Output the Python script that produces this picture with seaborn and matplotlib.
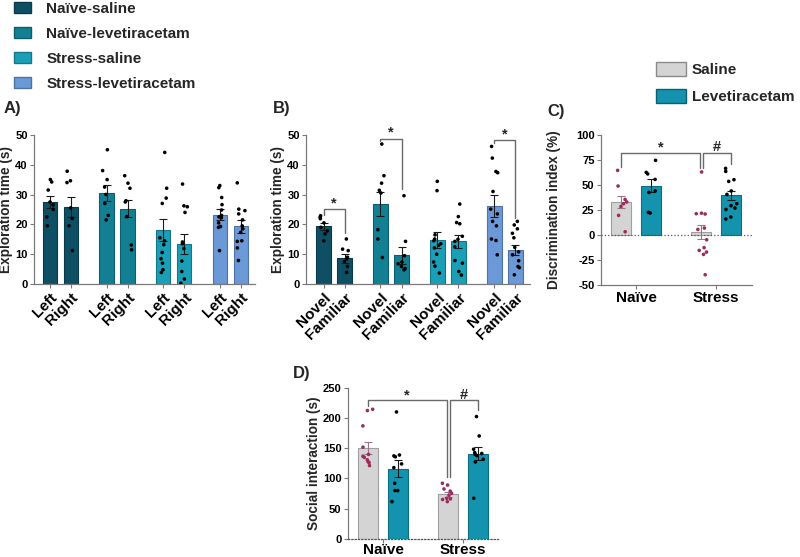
import numpy as np
import pandas as pd
import matplotlib.pyplot as plt
from matplotlib.colors import to_rgb
from matplotlib.patches import Patch
import seaborn as sns

sns.set_theme(style='ticks')
plt.rcParams['font.family'] = ['Liberation Sans', 'DejaVu Sans']
plt.rcParams['font.weight'] = 'bold'
plt.rcParams['axes.unicode_minus'] = False
np.random.seed(3)

# grupos / cores
grupos = ['Naïve-saline', 'Naïve-levetiracetam', 'Stress-saline', 'Stress-levetiracetam']
cores_grupos = ['#0e4f63', '#137f93', '#1a9fb6', '#6b98d6']
tratamentos = ['Saline', 'Levetiracetam']
cores_trat = ['#d4d4d4', '#1393ad']
condicoes = ['Naïve', 'Stress']
roxo = '#9c2c5c'

# A) tempo de exploracao - objetos iguais
a_ticks = ['Left', 'Right'] * 4
a_media = [27.5, 25.7, 30.5, 25.2, 18.1, 13.4, 23.3, 19.3]
a_sem = [2.0, 3.4, 2.6, 2.9, 3.8, 3.3, 1.9, 2.2]
a_pontos = [
    [35.0, 34.2, 31.5, 27.5, 26.5, 25.0, 22.5, 19.5],
    [37.8, 34.6, 34.0, 25.5, 22.0, 19.5, 11.2],
    [45.0, 38.0, 35.0, 32.5, 30.0, 27.0, 23.0, 21.5],
    [36.3, 33.8, 32.1, 27.9, 27.5, 22.6, 13.1, 11.5],
    [44.1, 32.1, 28.8, 27.0, 15.5, 14.5, 13.2, 10.6, 8.5, 7.0, 4.8, 3.9],
    [33.5, 26.2, 25.9, 24.0, 14.1, 13.5, 11.9, 7.7, 4.2, 1.7, 0.3],
    [33.0, 32.3, 29.0, 26.6, 24.8, 23.0, 22.5, 22.2, 20.5, 19.3, 19.0, 11.2],
    [33.9, 25.1, 24.6, 23.5, 21.5, 19.5, 18.5, 17.3, 14.5, 14.3, 12.1, 7.9],
]

# B) tempo de exploracao - novo vs familiar
b_ticks = ['Novel', 'Familiar'] * 4
b_media = [19.3, 8.7, 26.8, 9.6, 14.8, 14.3, 26.2, 11.4]
b_sem = [1.1, 1.5, 4.1, 2.8, 2.8, 2.2, 3.6, 1.8]
b_pontos = [
    [22.9, 22.4, 21.9, 20.5, 19.0, 17.8, 16.8, 14.5],
    [15.1, 11.7, 11.2, 9.0, 8.4, 7.5, 5.9, 3.9],
    [46.9, 36.3, 33.8, 31.4, 30.5, 18.2, 15.1, 8.9],
    [29.6, 14.3, 9.5, 7.4, 6.8, 5.9, 5.2, 4.8],
    [34.4, 31.3, 16.5, 15.1, 14.5, 13.5, 13.0, 12.1, 10.0, 7.4, 6.0, 3.7],
    [26.8, 22.6, 20.6, 20.2, 16.0, 15.0, 14.3, 12.5, 7.9, 7.0, 4.2, 3.0],
    [46.1, 42.2, 37.7, 37.3, 31.0, 25.1, 23.5, 21.0, 19.5, 15.1, 14.6, 9.8],
    [21.0, 19.8, 18.5, 17.0, 15.5, 12.3, 10.8, 9.8, 7.8, 5.9, 5.5, 3.1],
]
# (altura da barra, fundo perna esq, fundo perna dir) para cada par com *
b_sig = {0: (25.0, 23.0, 17.0), 1: (48.7, 47.8, 32.0), 3: (48.1, 47.2, 22.0)}

# C) indice de discriminacao
c_media = [33.0, 49.2, 3.0, 39.6]
c_sem = [6.2, 6.7, 7.3, 4.3]
c_pontos = [
    [64.5, 48.9, 35.5, 33.0, 31.3, 28.5, 19.6, 3.3],
    [74.5, 62.5, 61.0, 55.5, 44.0, 42.5, 22.6, 22.0],
    [62.9, 21.3, 21.0, 21.8, 7.0, 5.6, -4.7, -12.6, -15.3, -17.0, -19.3, -39.6],
    [66.5, 63.5, 55.2, 53.5, 44.0, 40.5, 31.3, 29.3, 26.9, 25.5, 18.0, 16.0],
]
c_sig = (82.0, 68.0, 67.0, 70.5)

# D) interacao social
d_media = [150.8, 116.4, 73.7, 141.4]
d_sem = [9.4, 14.4, 4.5, 10.5]
d_pontos = [
    [215.0, 212.9, 187.4, 152.0, 140.0, 137.0, 135.0, 131.0, 128.0, 126.4, 121.4],
    [210.6, 139.0, 137.5, 136.0, 124.2, 118.0, 92.0, 80.0, 79.8, 61.5],
    [92.0, 89.0, 82.6, 79.0, 75.4, 72.0, 66.0, 67.1, 65.0, 61.5],
    [202.9, 170.7, 148.6, 143.0, 141.5, 140.0, 138.0, 131.9, 127.5, 67.1],
]
d_sig = (230.0, 220.0, 103.0, 214.0)


def escurecer(cor, f=0.75):
    return tuple(c * f for c in to_rgb(cor))


def posicoes(n_grupos, gap):
    return [g * gap + k for g in range(n_grupos) for k in range(2)]


def painel(ax, pos, media, sem, cores, pontos, cores_pontos, cores_erro):
    nomes = [f'b{i}' for i in range(len(pos))]
    df_barras = pd.DataFrame({'pos': pos, 'media': media, 'barra': nomes})
    sns.barplot(data=df_barras, x='pos', y='media', hue='barra', palette=list(cores),
                native_scale=True, width=0.68, errorbar=None, legend=False,
                saturation=1, linewidth=0.8, ax=ax)
    for p in ax.patches:
        p.set_edgecolor(escurecer(p.get_facecolor()))
    for x, m, s, ce in zip(pos, media, sem, cores_erro):
        ax.errorbar(x, m, yerr=s, fmt='none', ecolor=ce, elinewidth=0.8,
                    capsize=3, capthick=0.8, zorder=3)
    n = [len(v) for v in pontos]
    df_pts = pd.DataFrame({'pos': np.repeat(pos, n), 'valor': np.concatenate(pontos),
                           'barra': np.repeat(nomes, n)})
    sns.stripplot(data=df_pts, x='pos', y='valor', hue='barra',
                  palette=dict(zip(nomes, cores_pontos)), native_scale=True,
                  jitter=0.2, size=2.6, legend=False, zorder=4, ax=ax)
    ax.set_xlabel('')
    sns.despine(ax=ax)
    for lado in ['left', 'bottom']:
        ax.spines[lado].set_color('#7a7a7a')
        ax.spines[lado].set_linewidth(0.9)
    ax.tick_params(colors='#7a7a7a', labelcolor='black', length=3, width=0.8,
                   labelsize=8, pad=1.5)


def colchete(ax, x1, x2, y, b1, b2, texto, ty):
    ax.plot([x1, x1, x2, x2], [b1, y, y, b2], color='#6a6a6a', lw=1.0, zorder=5)
    ax.text((x1 + x2) / 2, ty, texto, ha='center', va='center', fontsize=10.5, fontweight='bold')


fig = plt.figure(figsize=(8, 5.57), dpi=100)

# ---- A ----
axA = fig.add_axes([0.0425, 0.490, 0.276, 0.268])
pos_ab = posicoes(4, 2.7)
painel(axA, pos_ab, a_media, a_sem, np.repeat(cores_grupos, 2), a_pontos,
       ['black'] * 8, ['#1a1a1a'] * 8)
axA.set_xlim(-0.76, 9.76)
axA.set_ylim(0, 50)
axA.set_yticks(range(0, 51, 10))
axA.set_yticklabels([str(v) for v in range(0, 51, 10)], fontweight='bold')
axA.set_xticks(pos_ab)
axA.set_xticklabels(a_ticks, rotation=45, ha='right', rotation_mode='anchor',
                    fontsize=11, fontweight='bold')
axA.set_ylabel('Exploration time (s)', fontsize=9.8, fontweight='bold')
axA.yaxis.set_label_coords(-0.095, 0.5)

# ---- B ----
axB = fig.add_axes([0.3825, 0.490, 0.2800, 0.268])
painel(axB, pos_ab, b_media, b_sem, np.repeat(cores_grupos, 2), b_pontos,
       ['black'] * 8, ['#1a1a1a'] * 8)
axB.set_xlim(-0.83, 9.79)
axB.set_ylim(0, 50)
axB.set_yticks(range(0, 51, 10))
axB.set_yticklabels([str(v) for v in range(0, 51, 10)], fontweight='bold')
axB.set_xticks(pos_ab)
axB.set_xticklabels(b_ticks, rotation=45, ha='right', rotation_mode='anchor',
                    fontsize=11, fontweight='bold')
axB.set_ylabel('Exploration time (s)', fontsize=9.8, fontweight='bold')
axB.yaxis.set_label_coords(-0.094, 0.5)
for g, (yb, e1, e2) in b_sig.items():
    x1, x2 = pos_ab[2 * g], pos_ab[2 * g + 1]
    colchete(axB, x1, x2, yb, e1, e2, '*', yb + 2.0)

# ---- C ----
pos_cd = posicoes(2, 2.67)
centros = [(pos_cd[0] + pos_cd[1]) / 2, (pos_cd[2] + pos_cd[3]) / 2]
cores_cd = cores_trat * 2
axC = fig.add_axes([0.751, 0.488, 0.189, 0.270])
painel(axC, pos_cd, c_media, c_sem, cores_cd, c_pontos,
       [roxo, 'black'] * 2, ['#9a7585', '#1a1a1a'] * 2)
axC.axhline(0, color='#555555', lw=0.9, ls=':', zorder=2)
axC.set_xlim(-0.68, 4.37)
axC.set_ylim(-50, 100)
axC.set_yticks(range(-50, 101, 25))
axC.set_yticklabels([str(v) for v in range(-50, 101, 25)], fontweight='bold')
axC.set_xticks(centros)
axC.set_xticklabels(condicoes, fontsize=11, fontweight='bold')
axC.tick_params(axis='x', pad=1)
axC.set_ylabel('Discrimination index (%)', fontsize=9.8, fontweight='bold')
axC.yaxis.set_label_coords(-0.26, 0.5)
yb, e1, e2, e3 = c_sig
colchete(axC, pos_cd[0], pos_cd[2] - 0.05, yb, e1, e2, '*', yb + 5.5)
colchete(axC, pos_cd[2] + 0.05, pos_cd[3], yb, e2, e3, '#', yb + 5.5)

# ---- D ----
axD = fig.add_axes([0.4346, 0.033, 0.188, 0.270])
painel(axD, pos_cd, d_media, d_sem, cores_cd, d_pontos,
       [roxo, 'black'] * 2, ['#9a7585', '#1a1a1a'] * 2)
axD.spines['bottom'].set_linestyle(':')
axD.spines['bottom'].set_color('#555555')
axD.set_xlim(-0.68, 4.34)
axD.set_ylim(0, 250)
axD.set_yticks(range(0, 251, 50))
axD.set_yticklabels([str(v) for v in range(0, 251, 50)], fontweight='bold')
axD.set_xticks(centros)
axD.set_xticklabels(condicoes, fontsize=11, fontweight='bold')
axD.tick_params(axis='x', pad=0.5)
axD.set_ylabel('Social interaction (s)', fontsize=9.8, fontweight='bold')
axD.yaxis.set_label_coords(-0.18, 0.5)
yb, e1, e2, e3 = d_sig
colchete(axD, pos_cd[0], pos_cd[2] - 0.05, yb, e1, e2, '*', yb + 8)
colchete(axD, pos_cd[2] + 0.05, pos_cd[3], yb, e2, e3, '#', yb + 8)

# rotulos dos paineis
fig.text(0.004, 0.806, 'A)', fontsize=12, fontweight='bold', va='center')
fig.text(0.341, 0.806, 'B)', fontsize=12, fontweight='bold', va='center')
fig.text(0.684, 0.800, 'C)', fontsize=12, fontweight='bold', va='center')
fig.text(0.366, 0.330, 'D)', fontsize=12, fontweight='bold', va='center')

# legendas
h1 = [Patch(facecolor=c, edgecolor=escurecer(c)) for c in cores_grupos]
fig.legend(h1, grupos, loc='upper left', bbox_to_anchor=(0.018, 0.997), frameon=False,
           fontsize=11, handlelength=1.1, handleheight=0.75, handletextpad=1.0,
           labelspacing=0.72, borderpad=0, borderaxespad=0)
h2 = [Patch(facecolor=cores_trat[0], edgecolor='#8a8a8a'),
      Patch(facecolor=cores_trat[1], edgecolor='#0b5f72')]
fig.legend(h2, tratamentos, loc='upper left', bbox_to_anchor=(0.82, 0.888), frameon=False,
           fontsize=11, handlelength=1.95, handleheight=1.0, handletextpad=0.4,
           labelspacing=0.75, borderpad=0, borderaxespad=0)

fig.savefig('out.png', dpi=100)
